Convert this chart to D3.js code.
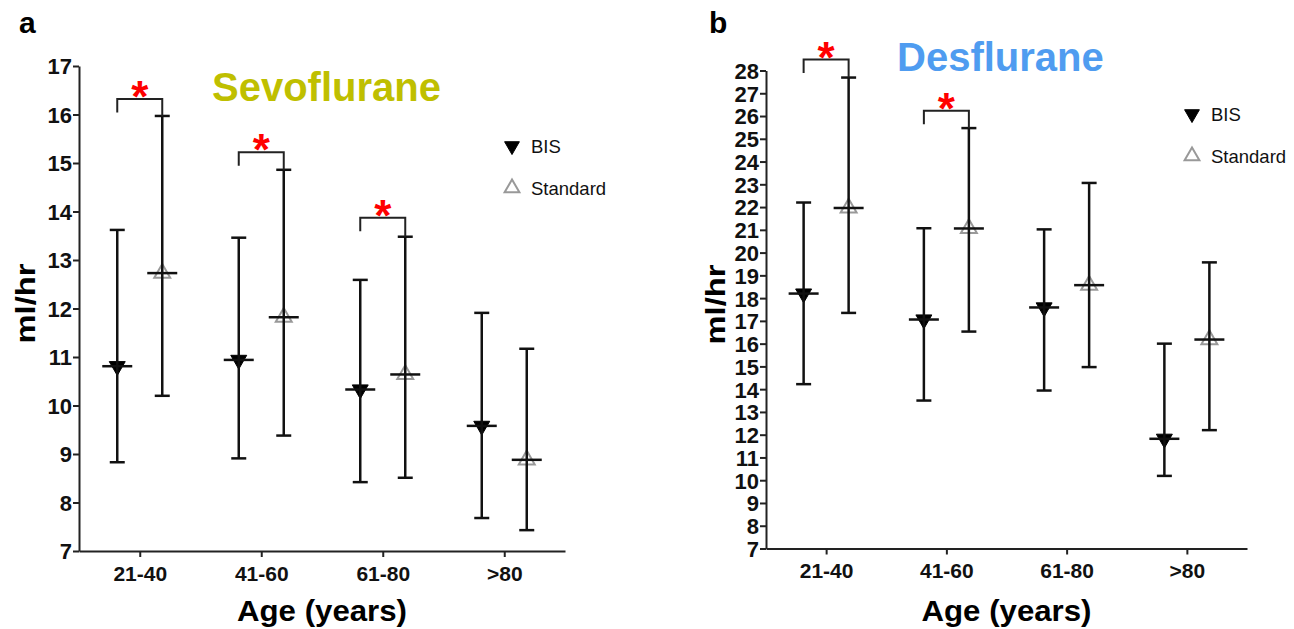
<!DOCTYPE html>
<html>
<head>
<meta charset="utf-8">
<script src="https://cdn.jsdelivr.net/npm/d3@7"></script>
<style>
  body { margin: 0; background: #fff; }
  text { font-family: "Liberation Sans", Arial, sans-serif; }
</style>
</head>
<body>
<svg id="chart" width="1294" height="629"></svg>
<script>

/* * * * * * * * * * * * * *
*          DATA            *
* * * * * * * * * * * * * */

const ageGroups = ["21-40", "41-60", "61-80", ">80"];
const seriesNames = ["BIS", "Standard"];

// Sevoflurane, ml/hr (mean and error bar ends)
const sevoBisMean = [10.81, 10.94, 10.33, 9.58];
const sevoBisLow  = [8.83, 8.91, 8.42, 7.68];
const sevoBisHigh = [13.62, 13.46, 12.59, 11.91];
const sevoStdMean = [12.73, 11.82, 10.64, 8.88];
const sevoStdLow  = [10.20, 9.38, 8.51, 7.43];
const sevoStdHigh = [15.97, 14.86, 13.48, 11.17];
const sevoSigGroups = ["21-40", "41-60", "61-80"];
const sevoSigLevel  = [16.32, 15.22, 13.87];
const sevoTicks = [7, 8, 9, 10, 11, 12, 13, 14, 15, 16, 17];

// Desflurane, ml/hr
const desBisMean = [18.20, 17.06, 17.59, 11.82];
const desBisLow  = [14.22, 13.50, 13.94, 10.19];
const desBisHigh = [22.20, 21.07, 21.02, 16.00];
const desStdMean = [21.96, 21.06, 18.57, 16.18];
const desStdLow  = [17.35, 16.53, 14.97, 12.20];
const desStdHigh = [27.69, 25.47, 23.06, 19.57];
const desSigGroups = ["21-40", "41-60"];
const desSigLevel  = [28.48, 26.23];
const desTicks = [7, 8, 9, 10, 11, 12, 13, 14, 15, 16, 17, 18, 19, 20,
                  21, 22, 23, 24, 25, 26, 27, 28];


/* * * * * * * * * * * * * *
*         PANELS           *
* * * * * * * * * * * * * */

const svg = d3.select("#chart");

function drawPanel(p) {
    const g = svg.append("g");

    const y = d3.scaleLinear()
        .domain([p.ticks[0], p.ticks[p.ticks.length - 1]])
        .range([p.bottom, p.top]);

    const x = d3.scalePoint()
        .domain(ageGroups)
        .range([p.left, p.right])
        .padding(0.5);

    const sub = d3.scalePoint()
        .domain(seriesNames)
        .range([-22.5, 22.5]);

    // axes
    const yAxis = g.append("g")
        .attr("transform", "translate(" + p.left + ",0)")
        .call(d3.axisLeft(y).tickValues(p.ticks).tickSize(6).tickSizeOuter(0).tickPadding(1));

    const xAxis = g.append("g")
        .attr("transform", "translate(0," + p.bottom + ")")
        .call(d3.axisBottom(x).tickSize(6).tickSizeOuter(0).tickPadding(9));

    [yAxis, xAxis].forEach(a => {
        a.select(".domain").attr("stroke", "#222").attr("stroke-width", 2);
        a.selectAll(".tick line").attr("stroke", "#222").attr("stroke-width", 2);
        a.selectAll(".tick text")
            .attr("fill", "#111")
            .style("font-size", "22px")
            .style("font-weight", "bold");
    });
    yAxis.selectAll(".tick text").attr("dy", "0.36em");
    xAxis.selectAll(".tick text").style("font-size", "21px");

    // rows per series
    const rows = [];
    ageGroups.forEach((a, i) => {
        rows.push({age: a, s: "BIS", mean: p.bisMean[i], low: p.bisLow[i], high: p.bisHigh[i]});
        rows.push({age: a, s: "Standard", mean: p.stdMean[i], low: p.stdLow[i], high: p.stdHigh[i]});
    });
    const cx = d => x(d.age) + sub(d.s);

    // markers (drawn under the bars)
    g.append("g").selectAll("path")
        .data(rows)
        .join("path")
        .attr("d", d3.symbol(d3.symbolTriangle).size(110))
        .attr("transform", d => "translate(" + cx(d) + "," + y(d.mean) + ")" + (d.s === "BIS" ? " rotate(180)" : ""))
        .attr("fill", d => d.s === "BIS" ? "#000" : "none")
        .attr("stroke", d => d.s === "BIS" ? "#000" : "#999")
        .attr("stroke-width", d => d.s === "BIS" ? 1 : 2);

    // error bars
    const bars = g.append("g")
        .attr("stroke", "#111")
        .attr("stroke-width", 2.5);

    bars.selectAll(".stem").data(rows).join("line")
        .attr("x1", cx).attr("x2", cx)
        .attr("y1", d => y(d.low)).attr("y2", d => y(d.high));
    bars.selectAll(".capHi").data(rows).join("line")
        .attr("x1", d => cx(d) - 7.5).attr("x2", d => cx(d) + 7.5)
        .attr("y1", d => y(d.high)).attr("y2", d => y(d.high));
    bars.selectAll(".capLo").data(rows).join("line")
        .attr("x1", d => cx(d) - 7.5).attr("x2", d => cx(d) + 7.5)
        .attr("y1", d => y(d.low)).attr("y2", d => y(d.low));
    bars.selectAll(".meanLine").data(rows).join("line")
        .attr("x1", d => cx(d) - 15).attr("x2", d => cx(d) + 15)
        .attr("y1", d => y(d.mean)).attr("y2", d => y(d.mean));

    // significance brackets
    const sig = p.sigGroups.map((a, i) => ({
        age: a,
        level: p.sigLevel[i],
        stdHigh: p.stdHigh[ageGroups.indexOf(a)]
    }));
    g.append("g").selectAll("path")
        .data(sig)
        .join("path")
        .attr("fill", "none")
        .attr("stroke", "#222")
        .attr("stroke-width", 2)
        .attr("d", d => {
            const x0 = x(d.age) + sub("BIS"), x1 = x(d.age) + sub("Standard");
            const yTop = y(d.level);
            return "M" + x0 + "," + (yTop + 13.5) + "V" + yTop + "H" + x1 + "V" + y(d.stdHigh);
        });
    g.append("g").selectAll("text")
        .data(sig)
        .join("text")
        .attr("x", d => x(d.age))
        .attr("y", d => y(d.level) + 13)
        .attr("text-anchor", "middle")
        .attr("fill", "#ff0000")
        .style("font-size", "44px")
        .style("font-weight", "bold")
        .text("*");

    // titles and labels
    g.append("text")
        .attr("x", p.titleX).attr("y", p.titleY)
        .attr("fill", p.titleColor)
        .style("font-size", "40px")
        .style("font-weight", "bold")
        .text(p.title);

    g.append("text")
        .attr("x", p.letterX).attr("y", 33)
        .attr("fill", "#000")
        .style("font-size", "30px")
        .style("font-weight", "bold")
        .text(p.letter);

    g.append("text")
        .attr("transform", "translate(" + p.yLabelX + "," + ((p.top + p.bottom) / 2 - 5) + ") rotate(-90)")
        .attr("text-anchor", "middle")
        .attr("fill", "#000")
        .style("font-size", "28px")
        .style("font-weight", "bold")
        .attr("textLength", 80)
        .attr("lengthAdjust", "spacingAndGlyphs")
        .text("ml/hr");

    g.append("text")
        .attr("x", (p.left + p.right) / 2)
        .attr("y", 621)
        .attr("text-anchor", "middle")
        .attr("fill", "#000")
        .style("font-size", "29px")
        .style("font-weight", "bold")
        .attr("textLength", 170)
        .attr("lengthAdjust", "spacingAndGlyphs")
        .text("Age (years)");

    // legend
    const leg = g.append("g").attr("transform", "translate(" + p.legX + "," + p.legY + ")");
    seriesNames.forEach((s, i) => {
        const row = leg.append("g").attr("transform", "translate(0," + (i * 42) + ")");
        row.append("path")
            .attr("d", d3.symbol(d3.symbolTriangle).size(95))
            .attr("transform", s === "BIS" ? "rotate(180)" : "")
            .attr("fill", s === "BIS" ? "#000" : "none")
            .attr("stroke", s === "BIS" ? "#000" : "#999")
            .attr("stroke-width", s === "BIS" ? 1 : 2);
        row.append("text")
            .attr("x", 19)
            .attr("y", 7)
            .attr("fill", "#111")
            .style("font-size", "18.5px")
            .text(s);
    });
}

drawPanel({
    letter: "a", letterX: 19,
    title: "Sevoflurane", titleColor: "#bfbf00", titleX: 212, titleY: 101,
    left: 79, right: 565, top: 66, bottom: 551,
    ticks: sevoTicks, yLabelX: 35,
    bisMean: sevoBisMean, bisLow: sevoBisLow, bisHigh: sevoBisHigh,
    stdMean: sevoStdMean, stdLow: sevoStdLow, stdHigh: sevoStdHigh,
    sigGroups: sevoSigGroups, sigLevel: sevoSigLevel,
    legX: 512, legY: 146
});

drawPanel({
    letter: "b", letterX: 709,
    title: "Desflurane", titleColor: "#4f9cf0", titleX: 897, titleY: 71,
    left: 766, right: 1247, top: 70.5, bottom: 548.5,
    ticks: desTicks, yLabelX: 725,
    bisMean: desBisMean, bisLow: desBisLow, bisHigh: desBisHigh,
    stdMean: desStdMean, stdLow: desStdLow, stdHigh: desStdHigh,
    sigGroups: desSigGroups, sigLevel: desSigLevel,
    legX: 1192, legY: 114
});

</script>
</body>
</html>
